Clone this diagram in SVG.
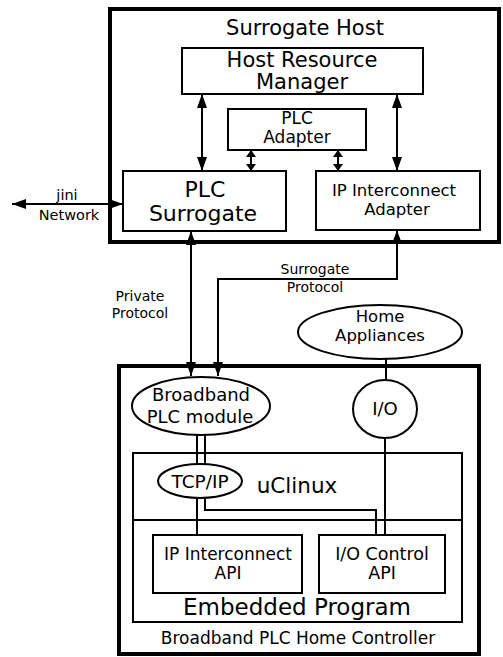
<svg xmlns="http://www.w3.org/2000/svg" width="503" height="657" viewBox="0 0 503 657">
<style>
  .outer{fill:none;stroke:#000;stroke-width:4}
  .box{fill:#fff;stroke:#000;stroke-width:2}
  .ln{fill:none;stroke:#000;stroke-width:2}
  .arr{fill:none;stroke:#000;stroke-width:2;marker-start:url(#ah);marker-end:url(#ah)}
  .sarr{fill:none;stroke:#000;stroke-width:2;marker-start:url(#sh);marker-end:url(#sh)}
  text{font-family:"DejaVu Sans","Liberation Sans",sans-serif;fill:#000;text-anchor:middle}
</style>
<defs>
  <marker id="ah" viewBox="0 0 14 10" refX="14" refY="5" markerWidth="14" markerHeight="10" markerUnits="userSpaceOnUse" orient="auto-start-reverse">
    <path d="M0,0 L14,5 L0,10 z" fill="#000"/>
  </marker>
  <marker id="sh" viewBox="0 0 7 10" refX="7" refY="5" markerWidth="7" markerHeight="10" markerUnits="userSpaceOnUse" orient="auto-start-reverse">
    <path d="M0,0 L7,5 L0,10 z" fill="#000"/>
  </marker>
</defs>
<rect width="503" height="657" fill="#fff"/>

<g id="surrogate-host">
  <rect class="outer" x="110" y="9" width="389" height="233"/>
  <text x="305" y="35" font-size="21">Surrogate Host</text>
</g>
<g id="host-resource-manager">
  <rect class="box" x="182" y="48" width="241" height="46"/>
  <text x="302" y="67" font-size="21">Host Resource</text>
  <text x="302" y="89" font-size="21">Manager</text>
</g>
<g id="plc-adapter">
  <rect class="box" x="228" y="109" width="138" height="41"/>
  <text x="297" y="124" font-size="17">PLC</text>
  <text x="297" y="143" font-size="17">Adapter</text>
</g>
<g id="plc-surrogate">
  <rect class="box" x="123" y="171" width="163" height="60"/>
  <text x="205" y="197" font-size="22">PLC</text>
  <text x="203" y="221" font-size="22">Surrogate</text>
</g>
<g id="ip-interconnect-adapter">
  <rect class="box" x="316" y="171" width="164" height="59"/>
  <text x="394" y="196" font-size="16.5">IP Interconnect</text>
  <text x="397" y="215" font-size="16.5">Adapter</text>
</g>

<g id="home-controller">
  <rect class="outer" x="119" y="366" width="360" height="288"/>
  <text x="298" y="644" font-size="17">Broadband PLC Home Controller</text>
</g>
<g id="home-appliances">
  <ellipse class="box" cx="380" cy="332" rx="82" ry="27"/>
  <text x="380" y="322" font-size="16.5">Home</text>
  <text x="380" y="341" font-size="16.5">Appliances</text>
</g>
<g id="broadband-plc-module">
  <ellipse class="box" cx="201" cy="406" rx="69" ry="29"/>
  <text x="201" y="401" font-size="18">Broadband</text>
  <text x="200" y="423" font-size="18">PLC module</text>
</g>
<g id="io">
  <ellipse class="box" cx="385" cy="409" rx="32" ry="29"/>
  <text x="385" y="415" font-size="18">I/O</text>
</g>
<g id="uclinux">
  <rect class="box" x="133" y="453" width="329" height="67"/>
  <text x="297" y="493" font-size="21.5">uClinux</text>
</g>
<g id="embedded-program">
  <rect class="box" x="133" y="520" width="329" height="102"/>
  <text x="297" y="615" font-size="23">Embedded Program</text>
</g>
<g id="tcp-ip">
  <ellipse class="box" cx="200" cy="481" rx="42" ry="17"/>
  <text x="200" y="488" font-size="18.5">TCP/IP</text>
</g>
<g id="ip-interconnect-api">
  <rect class="box" x="153" y="535" width="149" height="58"/>
  <text x="228" y="560" font-size="17">IP Interconnect</text>
  <text x="228" y="579" font-size="17">API</text>
</g>
<g id="io-control-api">
  <rect class="box" x="319" y="535" width="126" height="58"/>
  <text x="382" y="560" font-size="17.5">I/O Control</text>
  <text x="382" y="579" font-size="17.5">API</text>
</g>

<g id="connectors">
  <line class="arr" x1="202" y1="94" x2="202" y2="171"/>
  <line class="arr" x1="397" y1="94" x2="397" y2="171"/>
  <line class="sarr" x1="251" y1="150" x2="251" y2="171"/>
  <line class="sarr" x1="338" y1="150" x2="338" y2="171"/>
  <line class="arr" x1="12" y1="204" x2="123" y2="204"/>
  <text x="67" y="200" font-size="14.5">jini</text>
  <text x="69" y="220" font-size="14.5">Network</text>
  <line class="arr" x1="191" y1="231" x2="191" y2="376"/>
  <polyline class="arr" points="397,230 397,279 218,279 218,376"/>
  <text x="140" y="301" font-size="14">Private</text>
  <text x="140" y="318" font-size="14">Protocol</text>
  <text x="315" y="274" font-size="14">Surrogate</text>
  <text x="315" y="292" font-size="14">Protocol</text>
  <line class="ln" x1="386" y1="359" x2="386" y2="380"/>
  <line class="ln" x1="197" y1="435" x2="197" y2="464"/>
  <line class="ln" x1="205" y1="435" x2="205" y2="464"/>
  <line class="ln" x1="197" y1="498" x2="197" y2="535"/>
  <polyline class="ln" points="205,498 205,510 376,510 376,535"/>
  <line class="ln" x1="385" y1="438" x2="385" y2="535"/>
</g>
</svg>
